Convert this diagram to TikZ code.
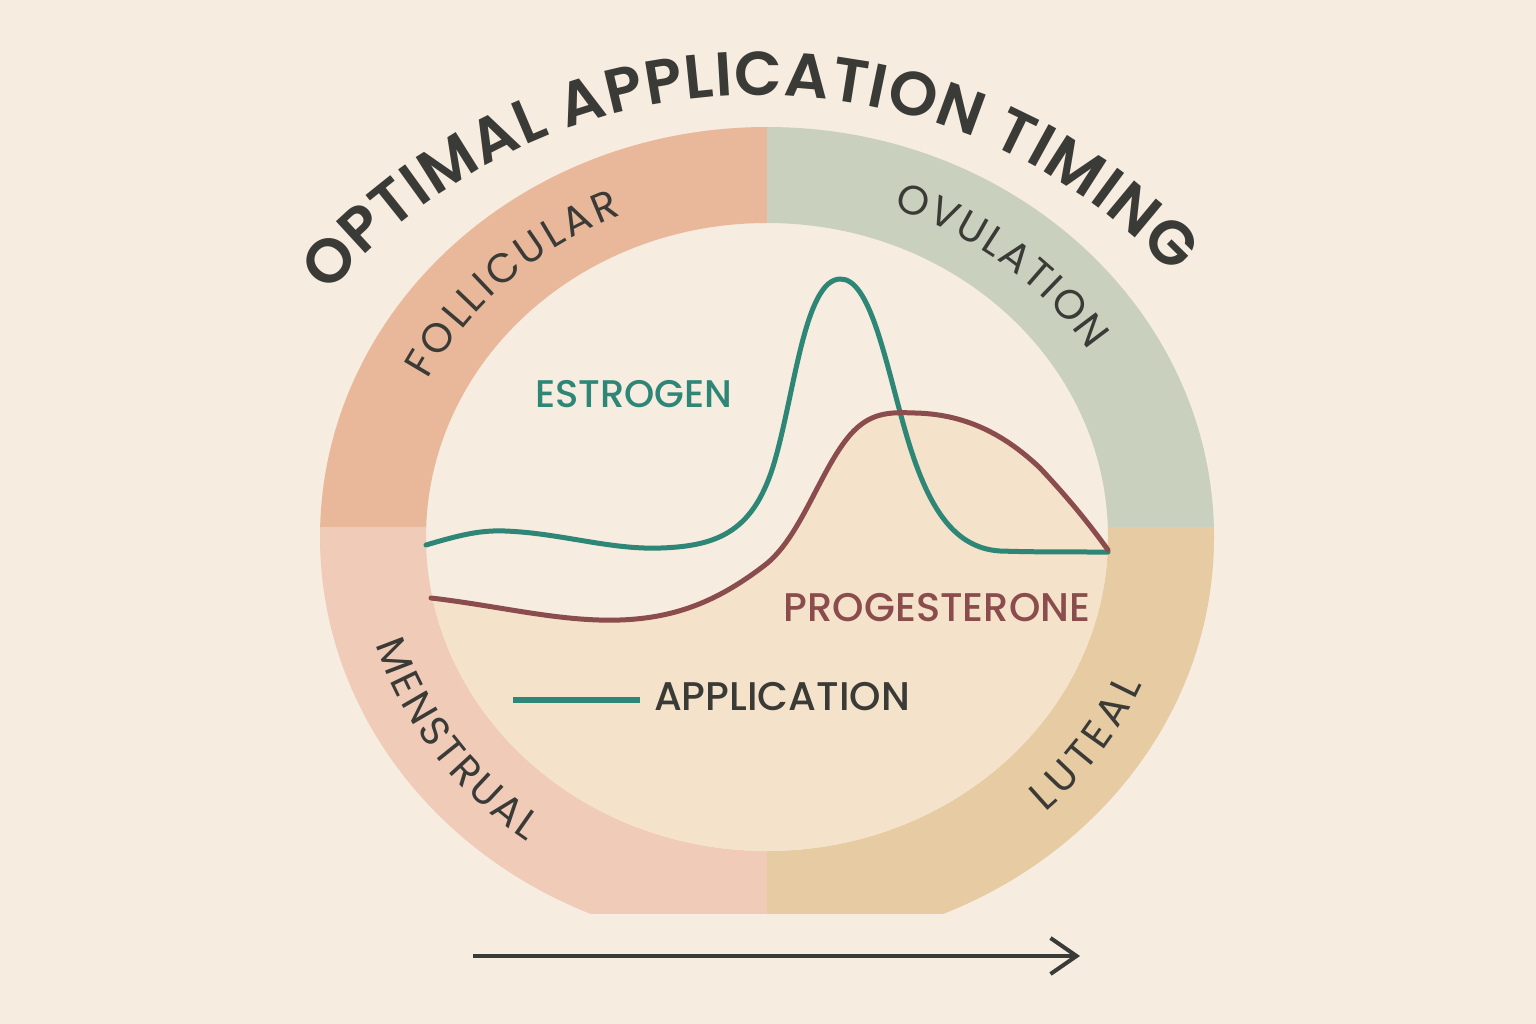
\documentclass[tikz,border=0pt]{standalone}
\usepackage{fontspec}
\usetikzlibrary{decorations.text,arrows.meta}
\setmainfont{Poppins}
\IfFontExistsTF{Poppins SemiBold}{\newfontfamily\ttlfont{Poppins SemiBold}}{\newfontfamily\ttlfont{Poppins}[FakeBold=1.2]}
\IfFontExistsTF{Poppins Medium}{\newfontfamily\medfont{Poppins Medium}}{\newfontfamily\medfont{Poppins}}
\newfontfamily\regfont{Poppins}
\definecolor{pagebg}{HTML}{F6ECDF}
\definecolor{follc}{HTML}{E9B89A}
\definecolor{ovulc}{HTML}{C9D0BE}
\definecolor{menstc}{HTML}{F0CBB8}
\definecolor{lutc}{HTML}{E6CBA3}
\definecolor{underc}{HTML}{F4E3CA}
\definecolor{tealc}{HTML}{2E8676}
\definecolor{redc}{HTML}{8A4C4C}
\definecolor{inkc}{HTML}{3A3A37}
\def\progpath{(431,598) .. controls (500,606) and (560,622) .. (620,620)
  .. controls (680,618) and (722,598) .. (765,565)
  .. controls (801,537) and (820,470) .. (850,435)
  .. controls (870,412) and (890,412) .. (915,413)
  .. controls (960,414) and (1000,430) .. (1040,468)
  .. controls (1070,500) and (1090,525) .. (1108,550)}
\begin{document}
\begin{tikzpicture}[x=1pt,y=-1pt,
  ringfill/.style={even odd rule},
  curve/.style={line width=5pt,line cap=round,line join=round},
  lbl/.style={inner sep=0pt,anchor=base},
  ringlbl/.style={decorate,decoration={text along path,text align={fit to path},raise=-14pt,text color=inkc}}]
\useasboundingbox (0,0) rectangle (1536,1024);
\fill[pagebg] (0,0) rectangle (1536,1024);
% ---- ring quadrants
\begin{scope}
\clip (300,100) rectangle (767,527);
\fill[follc,ringfill] (767,537) ellipse [x radius=447, y radius=410] (767,537) ellipse [x radius=341, y radius=314];
\end{scope}
\begin{scope}
\clip (767,100) rectangle (1240,527);
\fill[ovulc,ringfill] (767,537) ellipse [x radius=447, y radius=410] (767,537) ellipse [x radius=341, y radius=314];
\end{scope}
\begin{scope}
\clip (300,527) rectangle (767,913);
\fill[menstc,ringfill] (767,537) ellipse [x radius=447, y radius=410] (767,537) ellipse [x radius=341, y radius=314];
\end{scope}
\begin{scope}
\clip (767,527) rectangle (1240,913);
\fill[lutc,ringfill] (767,537) ellipse [x radius=447, y radius=410] (767,537) ellipse [x radius=341, y radius=314];
\end{scope}
% ---- area under progesterone curve
\begin{scope}
\clip (767,537) ellipse [x radius=341, y radius=314];
\fill[underc] \progpath -- (1120,560) -- (1120,900) -- (410,900) -- (410,598) -- cycle;
\end{scope}
% ---- hormone curves
\draw[curve,tealc] (426,545) .. controls (460,535) and (480,530) .. (505,531)
  .. controls (560,533) and (610,550) .. (661,548)
  .. controls (720,546) and (755,530) .. (775,460)
  .. controls (795,390) and (805,280) .. (840,279)
  .. controls (870,278) and (885,360) .. (905,430)
  .. controls (925,500) and (950,548) .. (1000,551)
  .. controls (1030,552) and (1060,552) .. (1108,552);
\draw[curve,redc] \progpath;
% ---- title along arc
\path[decorate,decoration={text along path,text align={fit to path},text color=inkc,
  text={|\ttlfont\fontsize{62}{70}\selectfont|OPTIMAL APPLICATION TIMING}}]
  (759,661) ++(-139.5:566) arc[start angle=-139.5,end angle=-43,radius=566];
% ---- ring labels
\path[ringlbl,decoration={text={|\regfont\fontsize{41}{48}\selectfont|FOLLICULAR}}]
  (767,537) ++(-153:394 and 362) arc[start angle=-153,end angle=-112.5,x radius=394,y radius=362];
\path[ringlbl,decoration={text={|\regfont\fontsize{41}{48}\selectfont|OVULATION}}]
  (767,537) ++(-70.5:394 and 362) arc[start angle=-70.5,end angle=-32.5,x radius=394,y radius=362];
\path[ringlbl,decoration={text={|\regfont\fontsize{41}{48}\selectfont|MENSTRUAL}}]
  (767,537) ++(163.5:394 and 362) arc[start angle=163.5,end angle=126,x radius=394,y radius=362];
\path[ringlbl,decoration={text={|\regfont\fontsize{41}{48}\selectfont|LUTEAL}}]
  (767,537) ++(47:394 and 362) arc[start angle=47,end angle=23,x radius=394,y radius=362];
% ---- inner labels
\node[lbl,text=tealc,font=\medfont\fontsize{38.5}{46}\selectfont] (estr) at (634,407) {ESTROGEN};
\node[lbl,text=redc,font=\medfont\fontsize{40}{48}\selectfont] (prog) at (937,621) {PROGESTERONE};
\node[lbl,text=inkc,font=\medfont\fontsize{40}{48}\selectfont] (appl) at (782,710) {APPLICATION};
\coordinate (legS) at (513,700);
\coordinate (legE) at (640,700);
\draw[tealc,line width=6.5pt] (legS) -- (legE);
% ---- timeline arrow
\coordinate (arrS) at (473,956);
\coordinate (arrE) at (1080,956);
\draw[inkc,line width=4pt,-{Straight Barb[length=26pt,width=36pt,line width=4pt]}] (arrS) -- (arrE);
\end{tikzpicture}
\end{document}
